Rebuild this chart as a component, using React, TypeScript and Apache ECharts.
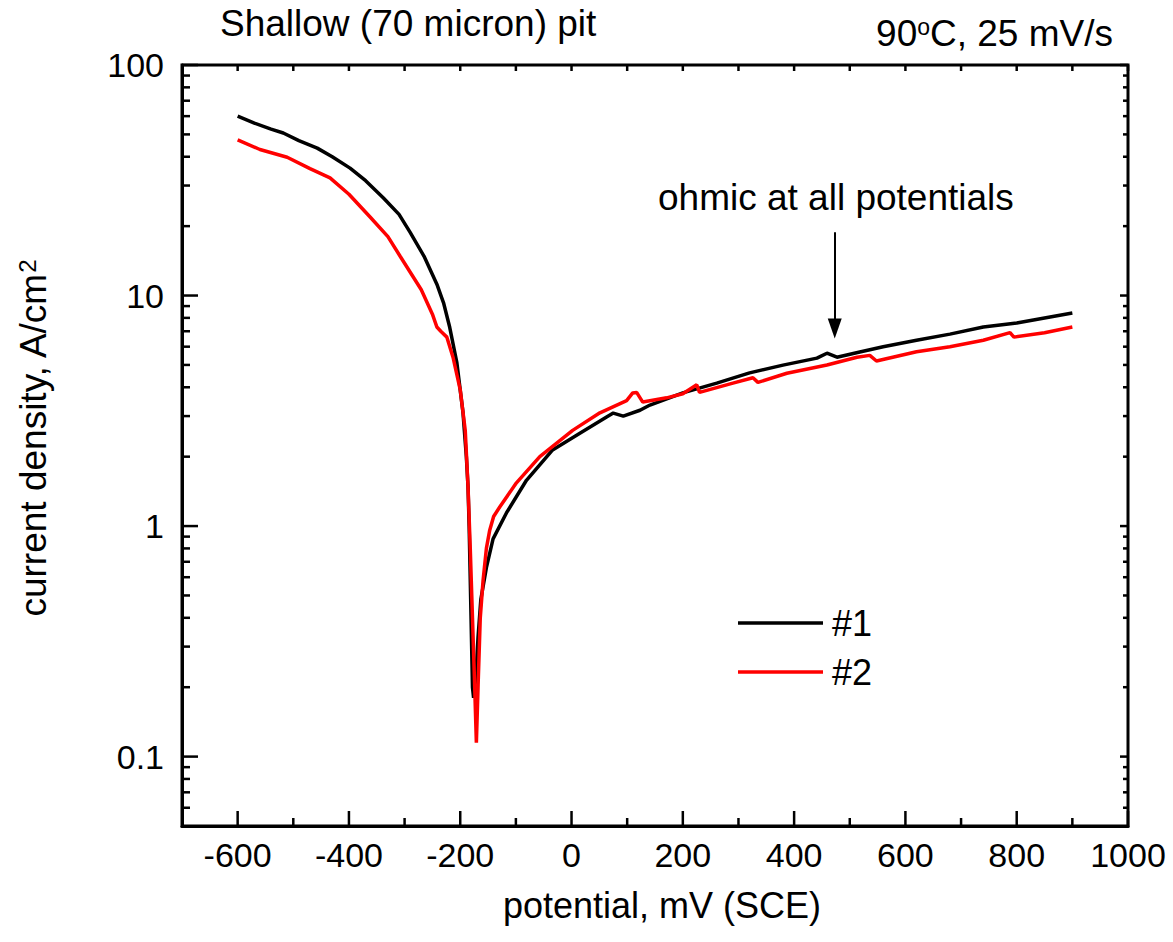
import React, { useEffect, useRef } from "react";
import * as echarts from "echarts";

// ---------- data ----------
const potential1 = [-600, -570, -540, -518, -490, -457, -430, -398, -370, -338, -310, -290, -265, -242, -230, -219, -206, -195, -189, -186, -184, -181, -178, -176, -172, -168, -163, -153, -141, -117, -81, -34, 15, 63, 75, 93, 123, 141, 200, 261, 320, 380, 441, 459, 477, 518, 560, 620, 680, 740, 800, 860, 900];
const current1 = [60, 56, 52.7, 50.7, 47, 43.6, 40, 35.7, 31.5, 26.5, 22.5, 18.8, 14.8, 11.2, 9.3, 7.3, 5.1, 3.1, 2.0, 1.48, 1.0, 0.45, 0.2, 0.18, 0.22, 0.33, 0.48, 0.66, 0.88, 1.14, 1.58, 2.14, 2.53, 2.97, 3.09, 3.0, 3.18, 3.35, 3.78, 4.17, 4.62, 4.99, 5.35, 5.62, 5.4, 5.69, 6.0, 6.4, 6.8, 7.3, 7.6, 8.07, 8.4];

const potential2 = [-600, -560, -511, -470, -434, -400, -362, -330, -308, -270, -250, -242, -235, -224, -213, -200, -191, -186, -182, -178, -174, -171, -168, -164, -159, -153, -147, -140, -129, -99, -57, 2, 51, 99, 110, 117, 128, 171, 200, 225, 230, 290, 326, 335, 387, 459, 513, 536, 548, 620, 680, 740, 788, 795, 850, 900];
const current2 = [47.3, 43, 39.8, 35.5, 32.4, 27.5, 21.9, 18.0, 14.8, 10.6, 8.3, 7.3, 7.0, 6.6, 5.4, 3.9, 2.6, 1.48, 0.8, 0.4, 0.2, 0.115, 0.2, 0.4, 0.58, 0.8, 0.96, 1.1, 1.21, 1.54, 2.0, 2.6, 3.1, 3.5, 3.78, 3.8, 3.45, 3.6, 3.75, 4.1, 3.8, 4.17, 4.4, 4.2, 4.6, 5.0, 5.4, 5.5, 5.2, 5.7, 6.0, 6.4, 6.9, 6.6, 6.9, 7.3];

const seriesNames = ["#1", "#2"];

// axis ranges and ticks
const X_MIN = -700;
const X_MAX = 1000;
const Y_MIN = 0.05;
const Y_MAX = 100;
const xMajorTicks = [-600, -400, -200, 0, 200, 400, 600, 800, 1000];
const xMinorTicks = [-500, -300, -100, 100, 300, 500, 700, 900];
const yMajorTicks = [0.1, 1, 10, 100];
const yMinorTicks = [0.06, 0.07, 0.08, 0.09, 0.2, 0.3, 0.4, 0.5, 0.6, 0.7, 0.8, 0.9, 2, 3, 4, 5, 6, 7, 8, 9, 20, 30, 40, 50, 60, 70, 80, 90];

// texts
const titleLeft = "Shallow (70 micron) pit";
const titleRight = "90{sup|o}C, 25 mV/s";
const annotationText = "ohmic at all potentials";
const xAxisName = "potential, mV (SCE)";
const yAxisName = "current density, A/cm{sup|2}";

// arrow annotation (data coordinates)
const arrowX = 473;
const arrowFrom = 18.8;
const arrowTo = 7.2;

const FONT = 'Arial, "Liberation Sans", Helvetica, sans-serif';

// tick kinds: 0 bottom major, 1 bottom minor, 2 top, 3 left major, 4 left minor, 5 right major, 6 right minor
const TICK_LEN = [15, 8, 6, 16, 8, 8, 5];

function buildTicks() {
  const items: any[] = [];
  xMajorTicks.forEach((v) => items.push([v, Y_MIN, 0]));
  xMinorTicks.forEach((v) => items.push([v, Y_MIN, 1]));
  [...xMajorTicks, ...xMinorTicks].forEach((v) => items.push([v, Y_MAX, 2]));
  yMajorTicks.forEach((v) => items.push([X_MIN, v, 3]));
  yMinorTicks.forEach((v) => items.push([X_MIN, v, 4]));
  yMajorTicks.forEach((v) => items.push([X_MAX, v, 5]));
  yMinorTicks.forEach((v) => items.push([X_MAX, v, 6]));
  return items;
}

function zip(xs: number[], ys: number[]) {
  return xs.map((x, i) => [x, ys[i]]);
}

export default function App() {
  const ref = useRef<HTMLDivElement>(null);

  useEffect(() => {
    document.body.style.margin = "0";
    if (!ref.current) return;
    const chart = echarts.init(ref.current, undefined, { renderer: "svg" });

    const option: any = {
      animation: false,
      backgroundColor: "#fff",
      textStyle: { fontFamily: FONT, color: "#000" },
      grid: {
        left: 182,
        right: 45,
        top: 65,
        bottom: 116,
        show: true,
        borderColor: "#000",
        borderWidth: 3,
        backgroundColor: "transparent",
      },
      legend: {
        data: seriesNames.map((n) => ({ name: n, icon: "rect" })),
        orient: "vertical",
        left: 733,
        top: 600,
        itemWidth: 85,
        itemHeight: 3.5,
        itemGap: 13,
        textStyle: { fontFamily: FONT, fontSize: 36, color: "#000", padding: [0, 0, 0, 4] },
      },
      xAxis: {
        type: "value",
        min: X_MIN,
        max: X_MAX,
        interval: 100,
        position: "bottom",
        axisLine: { show: true, onZero: false, lineStyle: { color: "#000", width: 3 } },
        axisTick: { show: false },
        splitLine: { show: false },
        axisLabel: {
          fontFamily: FONT,
          fontSize: 34,
          color: "#000",
          margin: 12,
          formatter: (v: number) => (xMajorTicks.indexOf(v) >= 0 ? String(v) : ""),
        },
        name: xAxisName,
        nameLocation: "middle",
        nameGap: 61,
        nameTextStyle: { fontFamily: FONT, fontSize: 36, color: "#000", padding: [0, 0, 0, 14] },
      },
      yAxis: {
        type: "log",
        logBase: 10,
        min: Y_MIN,
        max: Y_MAX,
        axisLine: { show: true, onZero: false, lineStyle: { color: "#000", width: 3 } },
        axisTick: { show: false },
        splitLine: { show: false },
        minorTick: { show: false },
        axisLabel: {
          fontFamily: FONT,
          fontSize: 34,
          color: "#000",
          margin: 18,
          formatter: (v: number) => {
            const l = Math.log10(v);
            const r = Math.round(l);
            if (Math.abs(l - r) > 1e-6) return "";
            return r < 0 ? Math.pow(10, r).toFixed(-r) : String(Math.pow(10, r));
          },
        },
        name: yAxisName,
        nameLocation: "middle",
        nameGap: 130,
        nameRotate: 90,
        nameTextStyle: {
          fontFamily: FONT,
          fontSize: 37,
          color: "#000",
          padding: [0, 0, 0, 14],
          rich: {
            sup: { fontFamily: FONT, fontSize: 24, color: "#000", verticalAlign: "top" },
          },
        },
      },
      graphic: [
        {
          type: "text",
          left: 220,
          top: 5,
          style: { text: titleLeft, font: `37px ${FONT}`, fill: "#000" },
        },
        {
          type: "text",
          right: 60,
          top: 15,
          style: {
            text: titleRight,
            fontFamily: FONT,
            fontSize: 37,
            fill: "#000",
            rich: {
              sup: { fontFamily: FONT, fontSize: 23, fill: "#000", verticalAlign: "top" },
            },
          },
        },
        {
          type: "text",
          left: 658,
          top: 179,
          style: { text: annotationText, font: `37px ${FONT}`, fill: "#000" },
        },
      ],
      series: [
        {
          name: seriesNames[0],
          type: "line",
          data: zip(potential1, current1),
          symbol: "none",
          lineStyle: { color: "#000", width: 3.5 },
          itemStyle: { color: "#000" },
          z: 3,
          markLine: {
            silent: true,
            symbol: ["none", "triangle"],
            symbolSize: [14, 20],
            label: { show: false },
            lineStyle: { color: "#000", width: 2, type: "solid" },
            emphasis: { disabled: true },
            data: [[{ coord: [arrowX, arrowFrom] }, { coord: [arrowX, arrowTo] }]],
          },
        },
        {
          name: seriesNames[1],
          type: "line",
          data: zip(potential2, current2),
          symbol: "none",
          lineStyle: { color: "#ff0000", width: 3.5 },
          itemStyle: { color: "#ff0000" },
          z: 4,
        },
        {
          type: "custom",
          name: "ticks",
          silent: true,
          clip: false,
          z: 10,
          data: buildTicks(),
          renderItem: (params: any, api: any) => {
            const kind = api.value(2);
            const p = api.coord([api.value(0), api.value(1)]);
            const len = TICK_LEN[kind];
            let dx = 0;
            let dy = 0;
            if (kind <= 1) dy = -len;
            else if (kind === 2) dy = len;
            else if (kind <= 4) dx = len;
            else dx = -len;
            return {
              type: "line",
              shape: { x1: p[0], y1: p[1], x2: p[0] + dx, y2: p[1] + dy },
              style: { stroke: "#000", lineWidth: 2.5 },
            };
          },
        },
      ],
    };

    chart.setOption(option);
    return () => chart.dispose();
  }, []);

  return <div ref={ref} style={{ width: 1173, height: 942 }} />;
}
